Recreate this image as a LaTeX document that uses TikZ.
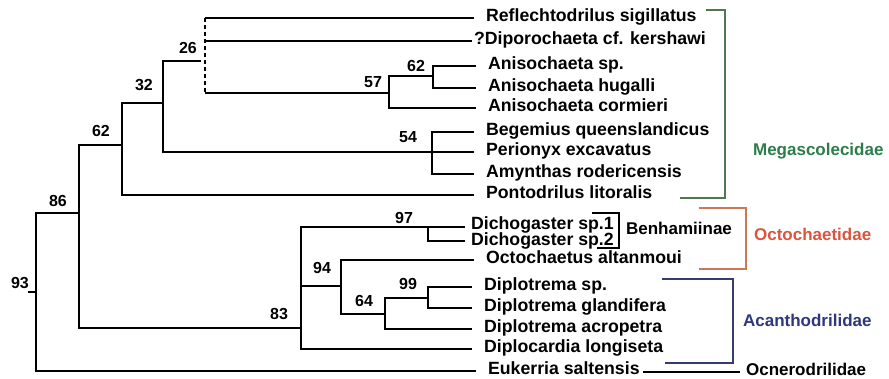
\documentclass[tikz,border=0pt]{standalone}
\usepackage{fontspec}
\setmainfont{Liberation Sans}
\usepackage{xcolor}
\usetikzlibrary{calc}

\definecolor{megagreen}{RGB}{45,125,75}
\definecolor{megaline}{RGB}{80,120,80}
\definecolor{octored}{RGB}{218,85,62}
\definecolor{octoline}{RGB}{205,120,85}
\definecolor{acanblue}{RGB}{45,55,125}
\definecolor{acanline}{RGB}{55,60,110}

\tikzset{
    leaf/.style={anchor=west, inner sep=0pt, text height=0.72em, text depth=0pt,
        font=\fontsize{17.7}{20}\selectfont\bfseries},
    boot/.style={inner sep=0pt, font=\fontsize{16}{18}\selectfont\bfseries},
    fam/.style={anchor=west, inner sep=0pt, text height=0.72em, text depth=0pt,
        font=\fontsize{17}{20}\selectfont\bfseries},
    branch/.style={shorten >=11pt},
    brack/.style={line width=1.8pt}
}

\begin{document}
\begin{tikzpicture}[x=1pt, y=-1pt, line width=2.2pt]
    \useasboundingbox (0,0) rectangle (889,379);

    % Các lá (tên loài)
    \node[leaf] (l1)  at (485,18)  {Reflechtodrilus sigillatus};
    \node[leaf] (l2)  at (473,41)  {?Diporochaeta cf. kershawi};
    \node[leaf] (l3)  at (487,66)  {Anisochaeta sp.};
    \node[leaf] (l4)  at (487,88)  {Anisochaeta hugalli};
    \node[leaf] (l5)  at (487,108) {Anisochaeta cormieri};
    \node[leaf] (l6)  at (485,132) {Begemius queenslandicus};
    \node[leaf] (l7)  at (485,152) {Perionyx excavatus};
    \node[leaf] (l8)  at (485,174) {Amynthas rodericensis};
    \node[leaf] (l9)  at (485,195) {Pontodrilus litoralis};
    \node[leaf, text depth=0.25em] (l10) at (470,227) {Dichogaster sp.1};
    \node[leaf, text height=1em] (l11) at (470,241) {Dichogaster sp.2};
    \node[leaf] (l12) at (485,260) {Octochaetus altanmoui};
    \node[leaf] (l13) at (483,287) {Diplotrema sp.};
    \node[leaf] (l14) at (483,308) {Diplotrema glandifera};
    \node[leaf] (l15) at (483,329) {Diplotrema acropetra};
    \node[leaf] (l16) at (483,349) {Diplocardia longiseta};
    \node[leaf] (l17) at (487,371) {Eukerria saltensis};

    % Các nút trong
    \coordinate (root) at (28,292);
    \coordinate (n93)  at (36,292);
    \coordinate (n86)  at (79,213);
    \coordinate (n62)  at (122,145);
    \coordinate (n32)  at (163,103);
    \coordinate (n26)  at (205,61);
    \coordinate (n57)  at (389,93);
    \coordinate (n62a) at (433,76);
    \coordinate (n54)  at (432,152);
    \coordinate (n83)  at (301,328);
    \coordinate (n97)  at (428,227);
    \coordinate (n94)  at (341,286);
    \coordinate (n64)  at (385,314);
    \coordinate (n99)  at (428,298);

    % Nhánh
    \draw (root) -- (n93);
    \draw (n93) |- (n86);
    \draw[branch] (n93) |- (l17.west);
    \draw (n86) |- (n62);
    \draw (n86) |- (n83);
    \draw (n62) |- (n32);
    \draw[branch] (n62) |- (l9.west);
    \draw (n32) |- ($(n26)+(-4,0)$);
    \draw[branch] (n32) |- (l7.west);
    \draw[dashed, dash pattern=on 4pt off 3pt] (n26 |- l1) -- (n26 |- n57);
    \draw[branch] (n26 |- l1) -- (l1.west);
    \draw[shorten >=1pt] (n26 |- l2) -- (l2.west);
    \draw (n26 |- n57) -- (n57);
    \draw (n57) |- (n62a);
    \draw[branch] (n57) |- (l5.west);
    \draw[branch] (n62a) |- (l3.west);
    \draw[branch] (n62a) |- (l4.west);
    \draw[branch] (n54) |- (l6.west);
    \draw[branch] (n54) |- (l8.west);
    \draw (n83) |- (n97);
    \draw (n83) |- (n94);
    \draw[branch] (n83) |- (l16.west);
    \draw[shorten >=5pt] (n97) -- (l10.west);
    \draw[shorten >=5pt] (n97) |- (l11.west);
    \draw[branch] (n94) |- (l12.west);
    \draw (n94) |- (n64);
    \draw (n64) |- (n99);
    \draw[branch] (n64) |- (l15.west);
    \draw[branch] (n99) |- (l13.west);
    \draw[branch] (n99) |- (l14.west);

    % Giá trị bootstrap
    \node[boot] (b93)  at (20,283)  {93};
    \node[boot] (b86)  at (58,201)  {86};
    \node[boot] (b62)  at (101,131) {62};
    \node[boot] (b32)  at (144,85)  {32};
    \node[boot] (b26)  at (188,48)  {26};
    \node[boot] (b57)  at (373,82)  {57};
    \node[boot] (b62a) at (416,66)  {62};
    \node[boot] (b54)  at (408,137) {54};
    \node[boot] (b83)  at (279,314) {83};
    \node[boot] (b97)  at (404,218) {97};
    \node[boot] (b94)  at (322,268) {94};
    \node[boot] (b99)  at (408,284) {99};
    \node[boot] (b64)  at (364,301) {64};

    % Họ
    \node[fam, text=megagreen] (mega) at (752,152) {Megascolecidae};
    \node[fam] (benh) at (625,231) {Benhamiinae};
    \node[fam, text=octored] (octo) at (753,237) {Octochaetidae};
    \node[fam, text=acanblue] (acan) at (742,323) {Acanthodrilidae};
    \node[fam] (ocne) at (745,372) {Ocnerodrilidae};

    \draw[brack, megaline] (706,10) -| (725,198) -- (680,198);
    \draw[brack] (592,213) -| (619,248) -- (597,248);
    \draw[brack, octoline] (699,208) -| (746,269) -- (699,269);
    \draw[brack, acanline] (662,279) -| (733,363) -- (665,363);
    \coordinate (ocnestart) at (643,372);
    \draw[brack, shorten >=5pt] (ocnestart) -- (ocne);
\end{tikzpicture}
\end{document}
